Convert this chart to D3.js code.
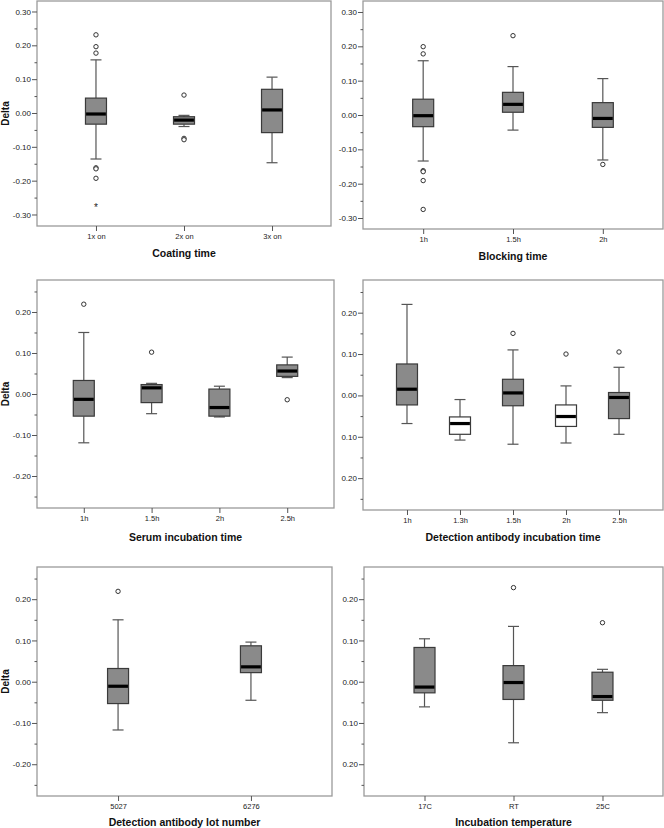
<!DOCTYPE html>
<html>
<head>
<meta charset="utf-8">
<script src="https://cdn.jsdelivr.net/npm/d3@7"></script>
<style>
  html, body { margin: 0; padding: 0; background: #fff; }
  svg { display: block; }
  text { font-family: "Liberation Sans", Arial, sans-serif; }
</style>
</head>
<body>
<svg id="chart" width="664" height="828"></svg>
<script>
// ---------------- DATA ----------------
// stats rows: [whiskerLow, Q1, median, Q3, whiskerHigh]
const coatingCats = ["1x on", "2x on", "3x on"];
const coatingStats = [
  [-0.136, -0.033, -0.003, 0.044, 0.157],
  [-0.040, -0.033, -0.021, -0.011, -0.007],
  [-0.147, -0.058, 0.009, 0.070, 0.106]
];
const coatingOutliers = [
  ["1x on", 0.231, "o"], ["1x on", 0.196, "o"], ["1x on", 0.177, "o"],
  ["1x on", -0.162, "o"], ["1x on", -0.165, "o"], ["1x on", -0.193, "o"],
  ["1x on", -0.277, "*"],
  ["2x on", 0.053, "o"], ["2x on", -0.075, "o"], ["2x on", -0.079, "o"]
];

const blockingCats = ["1h", "1.5h", "2h"];
const blockingStats = [
  [-0.134, -0.034, -0.002, 0.046, 0.158],
  [-0.044, 0.008, 0.031, 0.066, 0.141],
  [-0.131, -0.036, -0.010, 0.036, 0.106]
];
const blockingOutliers = [
  ["1h", 0.199, "o"], ["1h", 0.178, "o"], ["1h", -0.162, "o"], ["1h", -0.165, "o"],
  ["1h", -0.191, "o"], ["1h", -0.275, "o"],
  ["1.5h", 0.231, "o"],
  ["2h", -0.144, "o"]
];

const serumCats = ["1h", "1.5h", "2h", "2.5h"];
const serumStats = [
  [-0.119, -0.054, -0.013, 0.033, 0.150],
  [-0.048, -0.021, 0.015, 0.023, 0.026],
  [-0.056, -0.054, -0.033, 0.012, 0.019],
  [0.040, 0.043, 0.056, 0.071, 0.090]
];
const serumOutliers = [
  ["1h", 0.219, "o"], ["1.5h", 0.102, "o"], ["2.5h", -0.014, "o"]
];

const detectCats = ["1h", "1.3h", "1.5h", "2h", "2.5h"];
const detectStats = [
  [-0.068, -0.023, 0.015, 0.076, 0.220],
  [-0.108, -0.094, -0.068, -0.052, -0.010],
  [-0.118, -0.025, 0.006, 0.039, 0.110],
  [-0.115, -0.075, -0.051, -0.023, 0.023],
  [-0.094, -0.056, -0.005, 0.007, 0.068]
];
const detectFills = ["gray", "white", "gray", "white", "gray"];
const detectOutliers = [
  ["1.5h", 0.150, "o"], ["2h", 0.100, "o"], ["2.5h", 0.105, "o"]
];

const lotCats = ["5027", "6276"];
const lotStats = [
  [-0.117, -0.053, -0.011, 0.032, 0.150],
  [-0.045, 0.022, 0.036, 0.087, 0.096]
];
const lotOutliers = [["5027", 0.219, "o"]];

const tempCats = ["17C", "RT", "25C"];
const tempStats = [
  [-0.061, -0.027, -0.013, 0.083, 0.104],
  [-0.148, -0.043, -0.002, 0.039, 0.134],
  [-0.075, -0.045, -0.036, 0.023, 0.030]
];
const tempOutliers = [["RT", 0.228, "o"], ["25C", 0.143, "o"]];

const ticksWide = [-0.3, -0.2, -0.1, 0.0, 0.1, 0.2, 0.3];
const ticksWideLabels = ["-0.30", "-0.20", "-0.10", "0.00", "0.10", "0.20", "0.30"];
const minorWide = [-0.25, -0.15, -0.05, 0.05, 0.15, 0.25];
const ticksNarrow = [-0.2, -0.1, 0.0, 0.1, 0.2];
const ticksNarrowLabels = ["-0.20", "-0.10", "0.00", "0.10", "0.20"];
const ticksNarrowLabelsNoSign = ["0.20", "0.10", "0.00", "0.10", "0.20"];
const minorNarrow = [-0.25, -0.15, -0.05, 0.05, 0.15, 0.25];

// ---------------- LAYOUT ----------------
const panels = [
  { cats: coatingCats, stats: coatingStats, outliers: coatingOutliers, fills: null,
    title: "Coating time", domain: [-0.334, 0.331], ticks: ticksWide, labels: ticksWideLabels, minor: minorWide,
    x0: 37, x1: 331, y0: 1, y1: 226, pad: 0.67, titleY: 257, delta: true },
  { cats: blockingCats, stats: blockingStats, outliers: blockingOutliers, fills: null,
    title: "Blocking time", domain: [-0.332, 0.332], ticks: ticksWide, labels: ticksWideLabels, minor: minorWide,
    x0: 363, x1: 663, y0: 1, y1: 229, pad: 0.67, titleY: 260, delta: false },
  { cats: serumCats, stats: serumStats, outliers: serumOutliers, fills: null,
    title: "Serum incubation time", domain: [-0.278, 0.278], ticks: ticksNarrow, labels: ticksNarrowLabels, minor: minorNarrow,
    x0: 37, x1: 334, y0: 280, y1: 508, pad: 0.69, titleY: 541, delta: true },
  { cats: detectCats, stats: detectStats, outliers: detectOutliers, fills: detectFills,
    title: "Detection antibody incubation time", domain: [-0.277, 0.279], ticks: ticksNarrow, labels: ticksNarrowLabelsNoSign, minor: minorNarrow,
    x0: 363, x1: 663, y0: 280, y1: 510, pad: 0.83, titleY: 541, delta: false },
  { cats: lotCats, stats: lotStats, outliers: lotOutliers, fills: null,
    title: "Detection antibody lot number", domain: [-0.277, 0.278], ticks: ticksNarrow, labels: ticksNarrowLabels, minor: minorNarrow,
    x0: 37, x1: 332, y0: 567, y1: 796, pad: 0.61, titleY: 826, delta: true },
  { cats: tempCats, stats: tempStats, outliers: tempOutliers, fills: null,
    title: "Incubation temperature", domain: [-0.277, 0.278], ticks: ticksNarrow, labels: ticksNarrowLabelsNoSign, minor: minorNarrow,
    x0: 364, x1: 663, y0: 567, y1: 796, pad: 0.68, titleY: 826, delta: false }
];

const svg = d3.select("#chart");
const BOX_W = 21, CAP_W = 11;
const FILL_GRAY = "#8a8a8a";

panels.forEach(p => {
  const g = svg.append("g");
  const y = d3.scaleLinear().domain(p.domain).range([p.y1, p.y0]);
  const x = d3.scalePoint().domain(p.cats).range([p.x0, p.x1]).padding(p.pad);

  // frame
  g.append("rect")
    .attr("x", p.x0).attr("y", p.y0)
    .attr("width", p.x1 - p.x0).attr("height", p.y1 - p.y0)
    .attr("fill", "none").attr("stroke", "#9a9a9a").attr("stroke-width", 1.3);

  // y axis major
  const ya = g.append("g").attr("transform", `translate(${p.x0},0)`)
    .call(d3.axisLeft(y).tickValues(p.ticks).tickFormat((d, i) => p.labels[i]).tickSize(5).tickPadding(1));
  ya.select(".domain").remove();
  ya.selectAll("line").attr("stroke", "#555");
  ya.selectAll("text").attr("font-size", 8).attr("fill", "#222")
    .attr("font-family", "'Liberation Sans', Arial, sans-serif");
  // y axis minor
  const ym = g.append("g").attr("transform", `translate(${p.x0},0)`)
    .call(d3.axisLeft(y).tickValues(p.minor).tickFormat("").tickSize(2.5));
  ym.select(".domain").remove();
  ym.selectAll("line").attr("stroke", "#555");

  // x axis
  const xa = g.append("g").attr("transform", `translate(0,${p.y1})`)
    .call(d3.axisBottom(x).tickSize(5).tickPadding(3));
  xa.select(".domain").remove();
  xa.selectAll("line").attr("stroke", "#555");
  xa.selectAll("text").attr("font-size", 7.5).attr("fill", "#222")
    .attr("font-family", "'Liberation Sans', Arial, sans-serif");

  // axis title
  g.append("text")
    .attr("x", (p.x0 + p.x1) / 2).attr("y", p.titleY)
    .attr("text-anchor", "middle").attr("font-size", 10.5).attr("font-weight", "bold")
    .attr("fill", "#111").text(p.title);

  if (p.delta) {
    const cy = (p.y0 + p.y1) / 2;
    g.append("text")
      .attr("transform", `translate(9,${cy}) rotate(-90)`)
      .attr("text-anchor", "middle").attr("font-size", 10).attr("font-weight", "bold")
      .attr("fill", "#111").text("Delta");
  }

  // boxes
  p.cats.forEach((c, i) => {
    const [wl, q1, md, q3, wh] = p.stats[i];
    const cx = x(c);
    const fill = p.fills ? (p.fills[i] === "white" ? "#ffffff" : FILL_GRAY) : FILL_GRAY;
    // whiskers
    g.append("line").attr("x1", cx).attr("x2", cx).attr("y1", y(wh)).attr("y2", y(q3))
      .attr("stroke", "#555").attr("stroke-width", 1.2);
    g.append("line").attr("x1", cx).attr("x2", cx).attr("y1", y(q1)).attr("y2", y(wl))
      .attr("stroke", "#555").attr("stroke-width", 1.2);
    g.append("line").attr("x1", cx - CAP_W / 2).attr("x2", cx + CAP_W / 2).attr("y1", y(wh)).attr("y2", y(wh))
      .attr("stroke", "#555").attr("stroke-width", 1.2);
    g.append("line").attr("x1", cx - CAP_W / 2).attr("x2", cx + CAP_W / 2).attr("y1", y(wl)).attr("y2", y(wl))
      .attr("stroke", "#555").attr("stroke-width", 1.2);
    // box
    g.append("rect").attr("x", cx - BOX_W / 2).attr("y", y(q3))
      .attr("width", BOX_W).attr("height", Math.max(0.5, y(q1) - y(q3)))
      .attr("fill", fill).attr("stroke", "#3a3a3a").attr("stroke-width", 1.2);
    // median
    g.append("line").attr("x1", cx - BOX_W / 2 + 0.6).attr("x2", cx + BOX_W / 2 - 0.6)
      .attr("y1", y(md)).attr("y2", y(md))
      .attr("stroke", "#000").attr("stroke-width", 3.2);
  });

  // outliers
  p.outliers.forEach(([c, v, t]) => {
    const cx = x(c), cy = y(v);
    if (t === "*") {
      g.append("text").attr("x", cx).attr("y", cy + 4).attr("text-anchor", "middle")
        .attr("font-size", 10).attr("fill", "#222").text("*");
    } else {
      g.append("circle").attr("cx", cx).attr("cy", cy).attr("r", 2.2)
        .attr("fill", "#fff").attr("stroke", "#333").attr("stroke-width", 1);
    }
  });
});
</script>
</body>
</html>
